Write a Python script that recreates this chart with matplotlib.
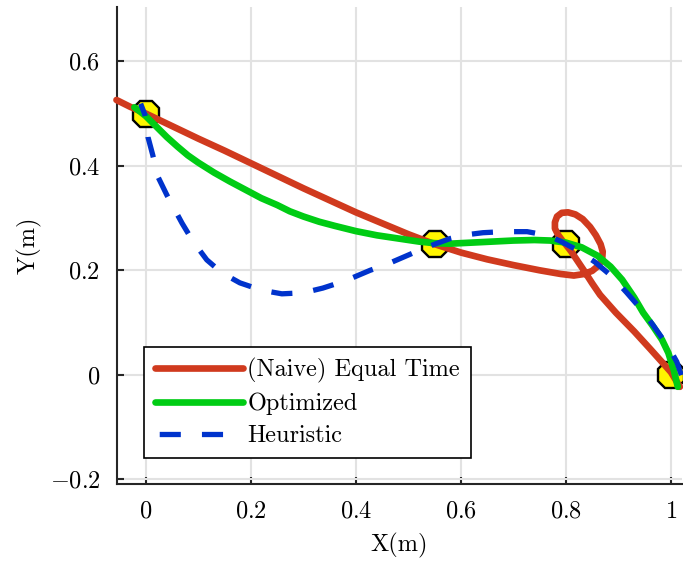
#!/usr/bin/env python3
"""
Trajectory comparison plot: equal-time vs optimized vs heuristic
time allocation through the same set of waypoints.
"""

import matplotlib
matplotlib.use("Agg")
import matplotlib.pyplot as plt
from matplotlib.ticker import FuncFormatter

# Waypoints
wp_x = [0.0, 0.55, 0.8, 1.0]
wp_y = [0.5, 0.25, 0.25, 0.0]

# (Naive) Equal Time trajectory
naive_x = [-0.056, -0.03, 0.0, 0.05, 0.1, 0.15, 0.2, 0.25, 0.3, 0.35, 0.4, 0.45,
           0.5, 0.55, 0.6, 0.65, 0.7, 0.75, 0.79, 0.815, 0.835, 0.85, 0.862, 0.869,
           0.87, 0.866, 0.857, 0.846, 0.832, 0.818, 0.804, 0.792, 0.783, 0.779, 0.779,
           0.785, 0.793, 0.8, 0.81, 0.822, 0.836, 0.85, 0.865, 0.895, 0.93, 0.96,
           0.985, 1.0, 1.017]
naive_y = [0.526, 0.513, 0.5, 0.476, 0.452, 0.429, 0.405, 0.381, 0.357, 0.334, 0.311,
           0.29, 0.269, 0.25, 0.234, 0.221, 0.21, 0.2, 0.193, 0.19, 0.193, 0.199,
           0.209, 0.222, 0.236, 0.25, 0.267, 0.283, 0.298, 0.307, 0.311, 0.31, 0.303,
           0.292, 0.28, 0.268, 0.257, 0.249, 0.236, 0.218, 0.197, 0.175, 0.153, 0.119,
           0.083, 0.05, 0.022, 0.005, -0.023]

# Optimized trajectory
opt_x = [-0.022, -0.01, 0.0, 0.02, 0.04, 0.06, 0.08, 0.1, 0.13, 0.16, 0.19, 0.22,
         0.25, 0.274, 0.3, 0.33, 0.36, 0.4, 0.44, 0.48, 0.52, 0.55, 0.58, 0.62, 0.66,
         0.7, 0.74, 0.77, 0.8, 0.83, 0.86, 0.885, 0.907, 0.93, 0.947, 0.965, 0.983,
         0.995, 1.005, 1.013]
opt_y = [0.512, 0.503, 0.495, 0.475, 0.455, 0.437, 0.42, 0.406, 0.387, 0.37, 0.354,
         0.338, 0.325, 0.313, 0.303, 0.293, 0.285, 0.275, 0.267, 0.261, 0.255, 0.252,
         0.251, 0.253, 0.255, 0.257, 0.258, 0.257, 0.253, 0.244, 0.228, 0.207, 0.182,
         0.148, 0.119, 0.094, 0.067, 0.042, 0.01, -0.023]

# Heuristic trajectory
heur_x = [-0.01, -0.002, 0.002, 0.004, 0.013, 0.023, 0.04, 0.055, 0.069, 0.09, 0.116,
          0.145, 0.179, 0.22, 0.259, 0.3, 0.337, 0.38, 0.427, 0.46, 0.49, 0.52, 0.55,
          0.58, 0.61, 0.642, 0.68, 0.726, 0.764, 0.789, 0.821, 0.855, 0.888, 0.916,
          0.941, 0.966, 0.989, 1.0, 1.011, 1.021]
heur_y = [0.519, 0.498, 0.477, 0.455, 0.421, 0.379, 0.344, 0.316, 0.29, 0.255, 0.22,
          0.195, 0.176, 0.162, 0.155, 0.157, 0.166, 0.18, 0.2, 0.212, 0.225, 0.238,
          0.25, 0.261, 0.268, 0.272, 0.274, 0.274, 0.267, 0.256, 0.239, 0.216, 0.188,
          0.157, 0.128, 0.095, 0.062, 0.045, 0.025, -0.004]

x_ticks = [0, 0.2, 0.4, 0.6, 0.8, 1.0]
y_ticks = [-0.2, 0, 0.2, 0.4, 0.6]

RED = '#d03a1e'
GREEN = '#00cc14'
BLUE = '#0033cc'

plt.rcParams['font.family'] = 'cmr10'
plt.rcParams['mathtext.fontset'] = 'cm'
plt.rcParams['axes.formatter.use_mathtext'] = True
plt.rcParams['font.size'] = 17.5


def tick_fmt(v, pos):
    return f'${v:g}$'


def main():
    fig = plt.figure(figsize=(6.83, 5.61), dpi=100)
    ax = fig.add_axes([117 / 683, 77 / 561, 565 / 683, 477 / 561])

    ax.plot(wp_x, wp_y, linestyle='none', marker='8', markersize=21,
            markerfacecolor='#fff500', markeredgecolor='black',
            markeredgewidth=1.7, zorder=2, clip_on=False)

    ax.plot(naive_x, naive_y, color=RED, linewidth=4.8, solid_capstyle='round',
            solid_joinstyle='round', label='(Naive) Equal Time', zorder=3, clip_on=False)
    ax.plot(opt_x, opt_y, color=GREEN, linewidth=4.8, solid_capstyle='round',
            solid_joinstyle='round', label='Optimized', zorder=4, clip_on=False)
    ax.plot(heur_x, heur_y, color=BLUE, linewidth=3.8, linestyle=(1.5, (4.0, 4.0)),
            dash_capstyle='butt', label='Heuristic', zorder=5, clip_on=False)

    ax.set_xlim(-0.055, 1.021)
    ax.set_ylim(-0.209, 0.704)
    ax.set_xticks(x_ticks)
    ax.set_yticks(y_ticks)
    ax.xaxis.set_major_formatter(FuncFormatter(tick_fmt))
    ax.yaxis.set_major_formatter(FuncFormatter(tick_fmt))

    ax.grid(True, color='#e2e2e2', linewidth=1.5)
    ax.set_axisbelow(True)
    for side in ('top', 'right'):
        ax.spines[side].set_visible(False)
    for side in ('left', 'bottom'):
        ax.spines[side].set_color('#262626')
        ax.spines[side].set_linewidth(1.5)
    ax.tick_params(direction='in', length=5, width=1.5, color='#262626')
    ax.tick_params(axis='x', pad=12)
    ax.tick_params(axis='y', pad=12)

    ax.set_xlabel('X(m)', labelpad=7)
    ax.set_ylabel('Y(m)', labelpad=6)

    leg = ax.legend(loc='lower left', bbox_to_anchor=(0.048, 0.0545),
                    borderaxespad=0, handlelength=3.6, handletextpad=0.2,
                    labelspacing=0.39, borderpad=0.45, fancybox=False,
                    framealpha=1, edgecolor='black')
    leg.get_frame().set_linewidth(1.2)
    # start the dashed legend sample with a short gap
    leg.get_lines()[2].set_linestyle((7.2, (4.0, 4.0)))

    fig.savefig('out.png', dpi=100)
    plt.close(fig)


if __name__ == "__main__":
    main()
